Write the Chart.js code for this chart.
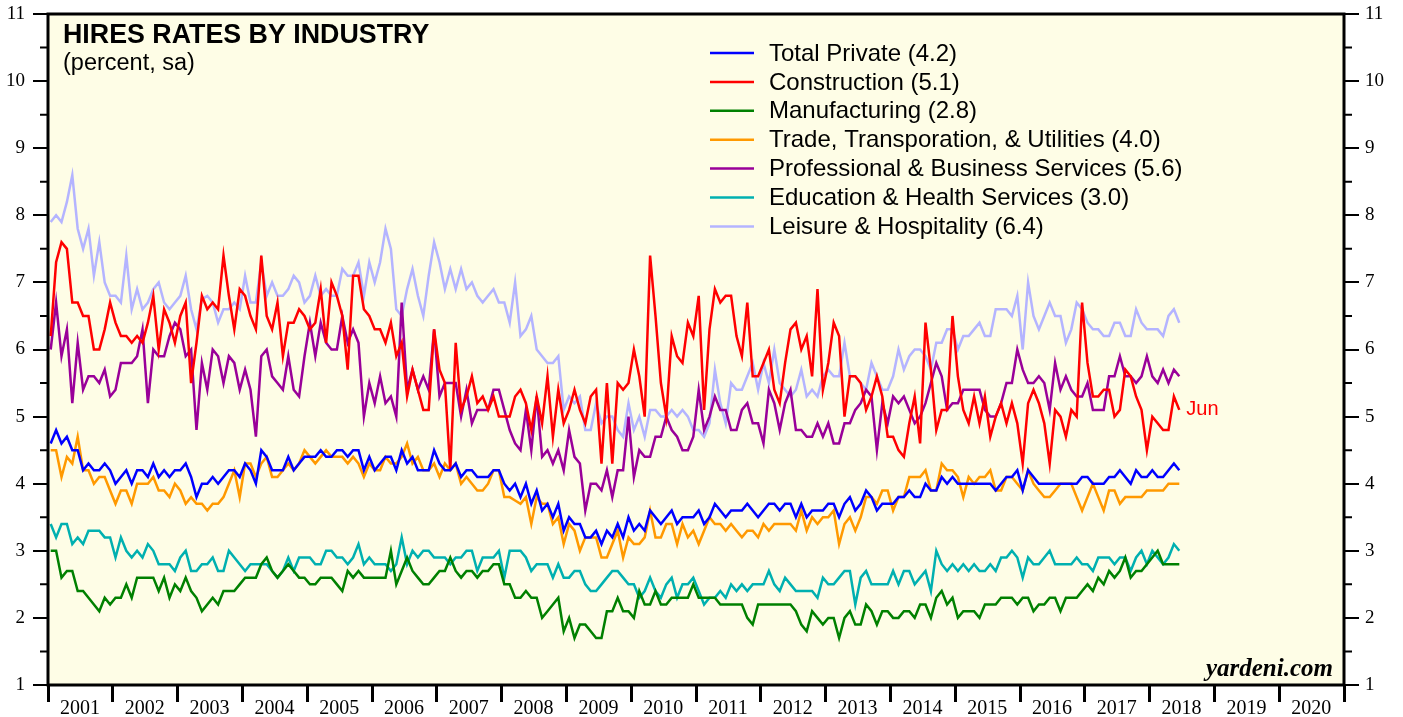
<!DOCTYPE html>
<html>
<head>
<meta charset="utf-8">
<script src="https://cdn.jsdelivr.net/npm/chart.js@4.4.1/dist/chart.umd.min.js"></script>
<style>
  html, body { margin: 0; padding: 0; background: #fff; }
  canvas { display: block; }
</style>
</head>
<body>
<canvas id="hires" width="1403" height="717"></canvas>
<script>
// monthly hires rates, Jan 2001 .. Jun 2018 (percent, sa)
const firstYear = 2001
const yearLabels = ['2001','2002','2003','2004','2005','2006','2007','2008','2009','2010',
                    '2011','2012','2013','2014','2015','2016','2017','2018','2019','2020']

const totalPrivate = [
  4.6,4.8,4.6,4.7,4.5,4.5,4.2,4.3,4.2,4.2,4.3,4.2,4.0,4.1,4.2,4.0,4.2,4.2,4.1,4.3,4.1,4.2,4.1,4.2,4.2,4.3,4.1,3.8,4.0,4.0,4.1,4.0,4.1,4.2,4.2,4.1,4.3,4.2,4.0,4.5,4.4,4.2,4.2,4.2,
  4.4,4.2,4.3,4.4,4.4,4.4,4.5,4.4,4.4,4.5,4.5,4.4,4.5,4.5,4.2,4.4,4.2,4.3,4.4,4.4,4.2,4.5,4.3,4.4,4.2,4.2,4.2,4.5,4.3,4.2,4.2,4.3,4.1,4.2,4.2,4.1,4.1,4.1,4.2,4.2,4.0,3.9,4.0,
  3.8,4.0,3.7,3.9,3.6,3.7,3.5,3.7,3.3,3.5,3.4,3.4,3.2,3.2,3.3,3.1,3.3,3.2,3.4,3.2,3.5,3.3,3.4,3.3,3.6,3.5,3.4,3.5,3.6,3.4,3.5,3.5,3.5,3.6,3.4,3.5,3.7,3.6,3.5,3.6,3.6,3.6,3.7,
  3.6,3.5,3.6,3.7,3.7,3.6,3.7,3.7,3.5,3.7,3.5,3.6,3.6,3.6,3.7,3.7,3.5,3.7,3.8,3.6,3.7,3.9,3.8,3.6,3.7,3.7,3.7,3.8,3.8,3.9,3.8,3.8,4.0,3.9,3.9,4.1,4.0,4.1,4.0,4.0,4.0,4.0,4.0,4.0,
  4.0,3.9,4.0,4.1,4.1,4.2,3.9,4.2,4.1,4.0,4.0,4.0,4.0,4.0,4.0,4.0,4.0,4.1,4.1,4.0,4.0,4.0,4.1,4.1,4.2,4.1,4.0,4.2,4.1,4.1,4.2,4.1,4.1,4.2,4.3,4.2
]
const construction = [
  6.2,7.3,7.6,7.5,6.7,6.7,6.5,6.5,6.0,6.0,6.3,6.7,6.4,6.2,6.2,6.1,6.2,6.1,6.4,6.8,6.0,6.6,6.4,6.1,6.5,6.7,5.5,6.1,6.8,6.6,6.7,6.6,7.4,6.8,6.3,6.9,6.8,6.5,6.3,7.4,6.5,6.3,6.7,5.9,
  6.4,6.4,6.6,6.5,6.3,6.4,6.9,6.1,7.0,6.8,6.5,5.7,7.1,7.1,6.6,6.5,6.3,6.3,6.1,6.4,5.9,6.1,5.3,5.7,5.4,5.1,5.1,6.3,5.7,5.5,4.2,6.1,5.1,5.3,5.6,5.2,5.3,5.1,5.3,5.0,5.0,5.0,5.3,
  5.4,5.2,4.8,5.3,4.9,5.6,4.7,5.4,4.9,5.1,5.4,5.1,4.9,5.3,5.4,4.3,5.5,4.3,5.5,5.4,5.5,6.0,5.6,5.0,7.4,6.5,5.5,5.0,6.2,5.9,5.8,6.4,6.2,6.8,5.1,6.3,6.9,6.7,6.8,6.8,6.2,5.9,6.7,
  5.6,5.6,5.8,6.0,5.4,5.2,5.8,6.3,6.4,6.0,6.2,5.6,6.9,5.4,5.8,6.4,6.2,5.0,5.6,5.6,5.5,5.1,5.3,5.6,5.3,4.7,4.7,4.5,4.4,4.9,5.3,4.6,6.4,5.7,4.8,5.1,5.1,6.5,5.6,5.1,4.9,5.3,4.9,5.3,
  4.7,5.0,5.2,4.9,5.2,4.9,4.3,5.2,5.4,5.2,4.9,4.3,5.1,5.0,4.7,5.1,5.0,6.7,5.8,5.3,5.3,5.4,5.4,5.0,5.1,5.7,5.6,5.3,5.1,4.5,5.0,4.9,4.8,4.8,5.3,5.1
]
const manufacturing = [
  3.0,3.0,2.6,2.7,2.7,2.4,2.4,2.3,2.2,2.1,2.3,2.2,2.3,2.3,2.5,2.3,2.6,2.6,2.6,2.6,2.4,2.6,2.3,2.5,2.4,2.6,2.4,2.3,2.1,2.2,2.3,2.2,2.4,2.4,2.4,2.5,2.6,2.6,2.6,2.8,2.9,2.7,2.6,2.7,
  2.8,2.7,2.6,2.6,2.5,2.5,2.6,2.6,2.6,2.5,2.4,2.7,2.6,2.7,2.6,2.6,2.6,2.6,2.6,3.0,2.5,2.7,2.9,2.7,2.6,2.5,2.5,2.6,2.7,2.7,2.9,2.7,2.6,2.7,2.7,2.6,2.7,2.7,2.8,2.8,2.5,2.5,2.3,
  2.3,2.4,2.3,2.3,2.0,2.1,2.2,2.3,1.8,2.0,1.7,1.9,1.9,1.8,1.7,1.7,2.1,2.1,2.3,2.1,2.1,2.0,2.4,2.2,2.2,2.4,2.2,2.2,2.3,2.3,2.3,2.3,2.5,2.3,2.3,2.3,2.3,2.2,2.2,2.2,2.2,2.2,2.0,
  1.9,2.2,2.2,2.2,2.2,2.2,2.2,2.2,2.1,1.9,1.8,2.1,2.0,1.9,2.0,2.0,1.7,2.0,2.1,1.9,1.9,2.2,2.1,1.9,2.1,2.1,2.0,2.0,2.1,2.1,2.0,2.2,2.2,2.0,2.3,2.4,2.2,2.3,2.0,2.1,2.1,2.1,2.0,2.2,
  2.2,2.2,2.3,2.3,2.3,2.2,2.3,2.3,2.1,2.2,2.2,2.3,2.3,2.1,2.3,2.3,2.3,2.4,2.5,2.4,2.6,2.5,2.7,2.6,2.7,2.9,2.6,2.7,2.7,2.8,2.9,3.0,2.8,2.8,2.8,2.8
]
const tradeTransport = [
  4.5,4.5,4.1,4.4,4.3,4.7,4.2,4.2,4.0,4.1,4.1,3.9,3.7,3.9,3.9,3.7,4.0,4.0,4.0,4.1,3.9,3.9,3.8,4.0,3.9,3.7,3.8,3.7,3.7,3.6,3.7,3.7,3.8,4.0,4.2,3.8,4.3,4.3,4.1,4.3,4.4,4.1,4.1,4.2,
  4.3,4.2,4.3,4.5,4.4,4.3,4.4,4.5,4.4,4.4,4.4,4.3,4.4,4.3,4.1,4.3,4.2,4.2,4.4,4.3,4.3,4.4,4.6,4.3,4.4,4.2,4.2,4.3,4.1,4.3,4.2,4.3,4.0,4.1,4.0,3.9,3.9,4.0,4.2,4.2,3.8,3.8,3.75,
  3.7,3.8,3.4,3.8,3.7,3.7,3.4,3.5,3.1,3.4,3.3,3.0,3.2,3.2,3.2,2.9,2.9,3.1,3.3,2.9,3.2,3.1,3.1,3.2,3.6,3.2,3.2,3.4,3.4,3.1,3.4,3.2,3.3,3.1,3.3,3.5,3.4,3.4,3.3,3.4,3.3,3.2,3.3,
  3.3,3.2,3.4,3.3,3.4,3.4,3.4,3.4,3.3,3.6,3.3,3.5,3.4,3.5,3.5,3.6,3.1,3.4,3.5,3.3,3.5,3.8,3.8,3.7,3.9,3.9,3.6,3.8,3.8,4.1,4.1,4.1,4.2,3.9,3.9,4.3,4.2,4.2,4.1,3.8,4.1,4.0,4.1,4.1,
  4.2,3.9,3.9,4.1,4.1,4.0,3.9,4.2,4.0,3.9,3.8,3.8,3.9,4.0,4.0,4.0,3.8,3.6,3.8,4.0,3.8,3.6,3.9,3.9,3.7,3.8,3.8,3.8,3.8,3.9,3.9,3.9,3.9,4.0,4.0,4.0
]
const profBusiness = [
  6.0,6.7,5.9,6.3,5.2,6.1,5.4,5.6,5.6,5.5,5.7,5.3,5.4,5.8,5.8,5.8,5.9,6.3,5.2,6.0,5.9,5.9,6.2,6.4,6.3,5.9,6.0,4.8,5.8,5.4,6.0,5.9,5.5,5.9,5.8,5.4,5.7,5.4,4.7,5.9,6.0,5.6,5.5,5.4,
  5.9,5.4,5.3,5.9,6.4,5.9,6.4,6.1,6.0,6.0,6.5,6.1,6.3,6.1,5.0,5.5,5.2,5.6,5.2,5.3,5.0,6.7,5.4,5.7,5.4,5.6,5.4,6.3,5.3,5.5,5.5,5.5,5.0,5.4,4.9,5.1,5.1,5.1,5.4,5.4,5.1,4.8,4.6,
  4.5,5.1,4.5,5.3,4.4,4.5,4.3,4.5,4.2,4.8,4.4,4.3,3.6,4.0,4.0,3.9,4.2,3.8,4.2,4.2,5.0,4.1,4.5,4.4,4.4,4.7,4.7,5.0,4.8,4.7,4.5,4.5,4.7,5.4,4.8,5.0,5.3,5.1,5.1,4.8,4.8,5.1,5.2,
  4.9,4.9,4.6,5.4,5.2,4.8,5.2,5.4,4.8,4.8,4.7,4.7,4.9,4.7,4.9,4.6,4.6,4.9,4.9,5.1,5.2,5.4,5.3,4.5,5.2,4.9,5.3,5.2,5.3,5.1,4.9,5.0,5.2,5.5,5.8,5.6,5.1,5.2,5.2,5.4,5.4,5.4,5.4,5.1,
  5.0,5.0,5.2,5.5,5.5,6.0,5.7,5.5,5.5,5.6,5.5,5.1,5.8,5.4,5.6,5.4,5.3,5.3,5.5,5.1,5.1,5.1,5.6,5.6,5.9,5.6,5.6,5.5,5.6,5.9,5.6,5.5,5.7,5.5,5.7,5.6
]
const eduHealth = [
  3.4,3.2,3.4,3.4,3.1,3.2,3.1,3.3,3.3,3.3,3.2,3.2,2.9,3.2,3.0,2.9,3.0,2.9,3.1,3.0,2.8,2.8,2.8,2.7,2.9,3.0,2.7,2.7,2.8,2.8,2.9,2.7,2.7,3.0,2.9,2.8,2.7,2.8,2.8,2.8,2.8,2.7,2.6,2.7,
  2.9,2.7,2.9,2.9,2.9,2.8,2.8,3.0,3.0,2.9,2.9,2.8,2.9,3.1,2.8,2.9,2.8,2.8,2.8,2.7,2.8,3.2,2.8,3.0,2.9,3.0,3.0,2.9,2.9,2.9,2.8,2.9,2.9,3.0,3.0,2.7,2.9,2.9,2.9,3.0,2.6,3.0,3.0,
  3.0,2.9,2.7,2.8,2.8,2.8,2.6,2.8,2.6,2.6,2.7,2.7,2.5,2.4,2.4,2.5,2.6,2.7,2.7,2.6,2.5,2.5,2.3,2.4,2.6,2.4,2.3,2.5,2.6,2.3,2.5,2.5,2.6,2.4,2.2,2.3,2.3,2.4,2.3,2.5,2.4,2.5,2.4,
  2.5,2.5,2.5,2.7,2.5,2.4,2.6,2.5,2.4,2.4,2.4,2.4,2.3,2.6,2.5,2.5,2.6,2.7,2.7,2.2,2.6,2.7,2.5,2.5,2.5,2.5,2.7,2.5,2.7,2.7,2.5,2.6,2.7,2.4,3.0,2.8,2.7,2.8,2.7,2.8,2.7,2.8,2.7,2.7,
  2.8,2.7,2.9,2.9,3.0,2.9,2.6,2.9,2.8,2.8,2.9,3.0,2.8,2.8,2.8,2.8,2.9,2.8,2.8,2.7,2.9,2.9,2.9,2.8,2.9,2.9,2.7,2.9,3.0,2.8,3.0,2.9,2.8,2.9,3.1,3.0
]
const leisureHosp = [
  7.9,8.0,7.9,8.2,8.6,7.8,7.5,7.8,7.1,7.6,7.0,6.8,6.8,6.7,7.4,6.6,6.9,6.6,6.7,6.9,7.0,6.7,6.6,6.7,6.8,7.1,6.6,6.3,6.75,6.8,6.7,6.4,6.6,6.6,6.7,6.6,7.1,6.7,6.7,7.3,6.8,7.0,6.8,6.8,
  6.9,7.1,7.0,6.7,6.8,7.1,6.8,6.9,6.8,6.8,7.2,7.1,7.1,7.3,6.8,7.3,7.0,7.3,7.8,7.5,6.6,6.5,6.9,7.2,6.8,6.5,7.1,7.6,7.3,6.9,7.2,6.9,7.2,6.9,7.0,6.8,6.7,6.8,6.9,6.7,6.7,6.4,7.0,
  6.2,6.3,6.5,6.0,5.9,5.8,5.8,5.9,5.1,5.3,5.2,5.3,4.8,4.8,5.2,4.9,5.0,5.0,4.8,4.7,5.2,4.8,5.0,4.7,5.1,5.1,5.0,5.0,5.1,5.0,5.1,5.0,4.8,4.8,4.7,4.9,5.7,5.2,4.9,5.5,5.4,5.4,5.6,
  5.8,5.4,5.8,5.5,6.0,5.5,5.4,5.3,5.4,5.7,5.3,5.4,5.3,5.6,5.7,5.6,5.6,6.1,5.6,5.6,5.5,5.4,5.8,5.6,5.4,5.4,5.6,6.0,5.7,5.9,6.0,6.0,5.9,5.7,6.1,6.1,6.3,6.3,6.0,6.2,6.2,6.3,6.4,6.2,
  6.2,6.6,6.6,6.6,6.5,6.8,6.0,7.0,6.5,6.3,6.5,6.7,6.5,6.5,6.1,6.3,6.7,6.6,6.4,6.3,6.3,6.2,6.2,6.4,6.4,6.2,6.2,6.6,6.4,6.3,6.3,6.3,6.2,6.5,6.6,6.4
]

const seriesNames = [
  'Total Private (4.2)',
  'Construction (5.1)',
  'Manufacturing (2.8)',
  'Trade, Transporation, & Utilities (4.0)',
  'Professional & Business Services (5.6)',
  'Education & Health Services (3.0)',
  'Leisure & Hospitality (6.4)'
]
const seriesValues = [totalPrivate, construction, manufacturing, tradeTransport, profBusiness, eduHealth, leisureHosp]
const seriesColors = ['#0000ff', '#ff0000', '#008000', '#ff9900', '#990099', '#00b0b0', '#b4b4ff']

// month i -> decimal year at mid-month
function monthToYear(i){
    return firstYear + (i + 0.5) / 12
}

function buildDatasets(){
    return seriesValues.map((vals, s) => ({
        label: seriesNames[s],
        data: vals.map((v, i) => ({x: monthToYear(i), y: v})),
        borderColor: seriesColors[s],
        backgroundColor: seriesColors[s],
        borderWidth: 2.5,
        pointRadius: 0,
        tension: 0,
        fill: false
    }))
}

const serif = 'Liberation Serif, Times New Roman, serif'
const sans = 'Liberation Sans, Arial, Helvetica, sans-serif'

// plot background, frame, minor ticks, titles, legend, notes
const decorations = {
    id: 'decorations',
    beforeDatasetsDraw(chart){
        const {ctx, chartArea: a} = chart
        ctx.save()
        ctx.fillStyle = '#fefde6'
        ctx.fillRect(a.left, a.top, a.right - a.left, a.bottom - a.top)
        ctx.restore()
    },
    afterDraw(chart){
        const {ctx, chartArea: a, scales} = chart
        ctx.save()
        ctx.strokeStyle = '#000'
        ctx.lineWidth = 3
        ctx.strokeRect(a.left, a.top, a.right - a.left, a.bottom - a.top)

        // half-unit ticks on both y axes
        ctx.lineWidth = 2
        for (let v = 1.5; v < 11; v += 1){
            const y = scales.y.getPixelForValue(v)
            ctx.beginPath()
            ctx.moveTo(a.left - 8, y); ctx.lineTo(a.left, y)
            ctx.moveTo(a.right, y); ctx.lineTo(a.right + 8, y)
            ctx.stroke()
        }

        ctx.fillStyle = '#000'
        ctx.textBaseline = 'alphabetic'
        ctx.textAlign = 'left'
        ctx.font = 'bold 26.8px ' + sans
        ctx.fillText('HIRES RATES BY INDUSTRY', 63, 43)
        ctx.font = '23.5px ' + sans
        ctx.fillText('(percent, sa)', 63, 70)

        // legend
        ctx.font = '24px ' + sans
        chart.data.datasets.forEach((ds, i) => {
            const y = 53 + i * 28.9
            ctx.strokeStyle = ds.borderColor
            ctx.lineWidth = 2.5
            ctx.beginPath()
            ctx.moveTo(710, y); ctx.lineTo(754, y)
            ctx.stroke()
            ctx.fillStyle = '#000'
            ctx.textBaseline = 'middle'
            ctx.fillText(ds.label, 769, y + 1)
        })

        // last-month marker next to construction
        const last = construction.length - 1
        ctx.fillStyle = '#ff0000'
        ctx.font = '20px ' + sans
        ctx.textBaseline = 'middle'
        ctx.fillText('Jun', scales.x.getPixelForValue(monthToYear(last)) + 7,
                     scales.y.getPixelForValue(construction[last]))

        ctx.fillStyle = '#000'
        ctx.font = 'italic bold 25px ' + serif
        ctx.textAlign = 'right'
        ctx.textBaseline = 'alphabetic'
        ctx.fillText('yardeni.com', a.right - 11, 676)
        ctx.restore()
    }
}

// keep the frame where the reference has it: no extra room for edge labels
function noEdgePadding(scale){
    scale.paddingTop = 0
    scale.paddingBottom = 0
    scale.paddingLeft = 0
    scale.paddingRight = 0
}

function yAxis(position, width, pad){
    return {
        type: 'linear',
        position: position,
        min: 1,
        max: 11,
        afterFit: scale => { scale.width = width; noEdgePadding(scale) },
        border: {display: false},
        grid: {
            drawOnChartArea: false,
            tickLength: 15,
            lineWidth: 2,
            color: ctx => Number.isInteger(ctx.tick.value) ? '#000' : 'rgba(0,0,0,0)'
        },
        ticks: {
            stepSize: 0.5,
            autoSkip: false,
            padding: pad,
            color: '#000',
            font: {family: serif, size: 19},
            callback: v => Number.isInteger(v) ? String(v) : ''
        }
    }
}

function createChart(){
    const ctx = document.querySelector('#hires')
    new Chart(ctx, {
        type: 'line',
        data: {datasets: buildDatasets()},
        plugins: [decorations],
        options: {
            responsive: false,
            animation: false,
            devicePixelRatio: 1,
            layout: {padding: {top: 14, left: 0, right: 0, bottom: 0}},
            plugins: {legend: {display: false}, title: {display: false}, tooltip: {enabled: false}},
            scales: {
                x: {
                    type: 'linear',
                    min: firstYear,
                    max: firstYear + yearLabels.length,
                    afterFit: scale => { scale.height = 32; noEdgePadding(scale) },
                    border: {display: false},
                    grid: {drawOnChartArea: false, tickLength: 17, lineWidth: 3, color: '#000'},
                    ticks: {
                        stepSize: 1,
                        autoSkip: false,
                        maxRotation: 0,
                        labelOffset: 32,
                        padding: -5,
                        color: '#000',
                        font: {family: serif, size: 20},
                        callback: v => yearLabels[v - firstYear] || ''
                    }
                },
                y: yAxis('left', 48, 8),
                y2: yAxis('right', 59, 6)
            }
        }
    })
}

createChart()
</script>
</body>
</html>
